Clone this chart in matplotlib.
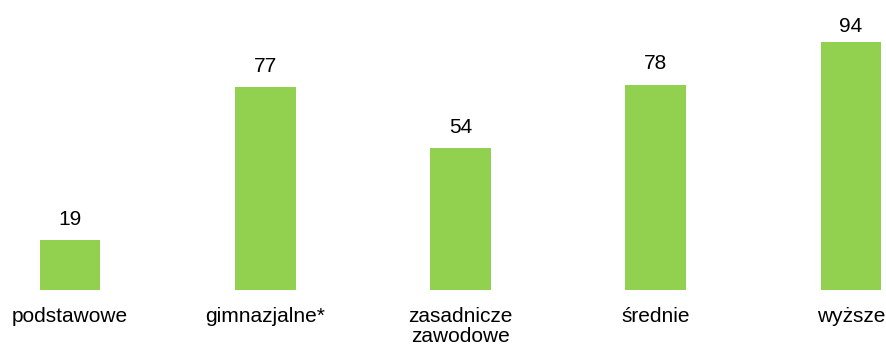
import matplotlib
matplotlib.use("Agg")
import matplotlib.pyplot as plt

categories = ["podstawowe", "gimnazjalne*", "zasadnicze\nzawodowe", "średnie", "wyższe"]
values = [19, 77, 54, 78, 94]
# vertical gap (points) between bar top and its value label
label_offsets = [8, 8, 8, 8, 4.5]

plt.rcParams["font.family"] = ["Liberation Sans", "DejaVu Sans"]

fig = plt.figure(figsize=(8.87, 3.49), dpi=100)
ax = fig.add_axes([0, 59 / 349, 1, 290 / 349])

pos = list(range(len(categories)))
bars = ax.bar(pos, values, width=0.312, color="#92D050")

for b, v, off in zip(bars, values, label_offsets):
    ax.annotate(str(v), (b.get_x() + b.get_width() / 2, v),
                xytext=(0, off), textcoords="offset points",
                ha="center", va="bottom", fontsize=15, color="#000000")

ax.set_xlim(-0.3585, 4.1844)
ax.set_ylim(0, 110.1)
ax.set_xticks(pos)
ax.set_xticklabels(categories, fontsize=15, linespacing=1.1)
ax.tick_params(axis="x", length=0, pad=12)
ax.set_yticks([])
for s in ax.spines.values():
    s.set_visible(False)

fig.savefig("out.png", dpi=100)
